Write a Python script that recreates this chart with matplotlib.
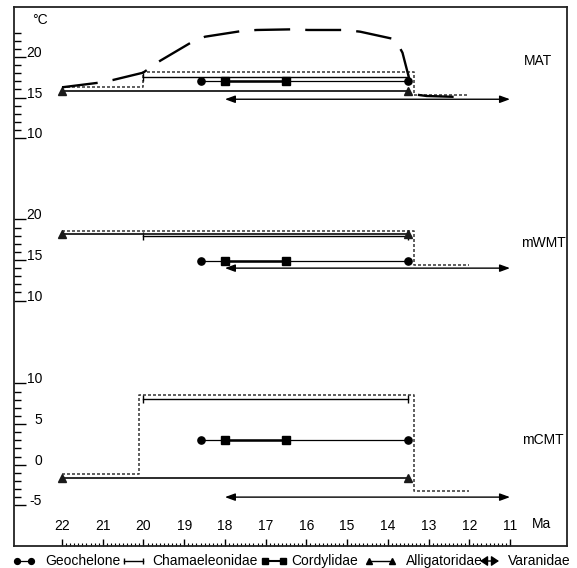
import numpy as np
import matplotlib
matplotlib.use('Agg')
import matplotlib.pyplot as plt

plt.rcParams['font.family'] = ['Liberation Sans', 'DejaVu Sans']
plt.rcParams['font.size'] = 10

# three temperature panels share one axis, each shifted by an offset
panels = ['MAT', 'mWMT', 'mCMT']
offsets = [0.0, -20.0, -30.2]

# stratigraphic ranges (Ma)
geochelone_ma = [18.6, 13.5]
cordylidae_ma = [18.0, 16.5]
chamaeleonidae_ma = [20.0, 13.5]
alligatoridae_ma = [22.0, 13.5]
varanidae_ma = [18.0, 11.0]

# temperature of each taxon, one value per panel (MAT, mWMT, mCMT)
geochelone_t = [17.0, 14.9, 3.0]
cordylidae_t = [17.0, 14.9, 3.0]
chamaeleonidae_t = [17.6, 18.0, 8.1]
alligatoridae_t = [15.8, 18.2, -1.7]
varanidae_t = [14.8, 14.0, -4.0]

# dotted step estimate per panel
step_ma = [[22.0, 20.0, 13.35, 12.0],
           [22.0, 13.35, 12.0],
           [22.0, 20.1, 13.35, 12.0]]
step_t = [[16.3, 18.1, 15.3],
          [18.6, 14.4],
          [-1.2, 8.6, -3.3]]

# dashed MAT curve
curve_ma = [22.0, 21.11, 20.75, 20.01, 19.59, 18.84, 18.49, 17.59, 17.22, 16.33,
            15.96, 15.05, 14.68, 13.82, 13.64, 13.46, 13.35, 13.05, 12.19]
curve_t = [16.27, 16.83, 17.17, 18.07, 19.54, 21.76, 22.5, 23.2, 23.33, 23.41,
           23.33, 23.33, 23.12, 22.18, 20.53, 17.04, 15.4, 15.2, 15.07]

# axis ticks
xticks = [22, 21, 20, 19, 18, 17, 16, 15, 14, 13, 12, 11]
ytick_major = [[20, 15, 10], [20, 15, 10], [10, 5, 0, -5]]
ytick_minor = [range(10, 24), range(10, 21), range(-5, 11)]

legend_labels = ['Geochelone', 'Chamaeleonidae', 'Cordylidae', 'Alligatoridae', 'Varanidae']

fig = plt.figure(figsize=(5.77, 5.68), dpi=100)
ax = fig.add_axes([14 / 577, 22 / 568, 553 / 577, 539 / 568])
ax.set_xlim(23.18, 9.60)
ax.set_ylim(-40.22, 26.16)

dot_col = '#444444'
for i, off in enumerate(offsets):
    # dotted estimate
    ys = np.array(step_t[i] + [step_t[i][-1]]) + off
    ax.step(step_ma[i], ys, where='post', color=dot_col, lw=1.2, ls=(0, (1.8, 1.2)), zorder=1)

    ax.plot(chamaeleonidae_ma, [chamaeleonidae_t[i] + off] * 2, color='k', lw=1.0,
            marker='|', ms=6, mew=1.0, zorder=2)
    ax.plot(alligatoridae_ma, [alligatoridae_t[i] + off] * 2, color='#1a1a1a', lw=1.3,
            marker='^', ms=5.5, zorder=2)
    ax.plot(geochelone_ma, [geochelone_t[i] + off] * 2, color='k', lw=0.9,
            marker='o', ms=5.2, zorder=3)
    ax.plot(cordylidae_ma, [cordylidae_t[i] + off] * 2, color='k', lw=1.8,
            marker='s', ms=5.2, zorder=3)
    ax.annotate('', xy=(varanidae_ma[1], varanidae_t[i] + off),
                xytext=(varanidae_ma[0], varanidae_t[i] + off),
                arrowprops=dict(arrowstyle='<|-|>,head_length=0.6,head_width=0.22',
                                mutation_scale=10, color='k', lw=1.0,
                                shrinkA=0, shrinkB=0))

# MAT curve
ax.plot(curve_ma, np.array(curve_t) + offsets[0], color='k', lw=1.7,
        dashes=(15.2, 6.4), zorder=4)

# panel labels
label_pos = [(10.31, 19.5), (10.19, 17.1), (10.19, 3.0)]
for name, off, (lx, ly) in zip(panels, offsets, label_pos):
    ax.text(lx, ly + off, name, ha='center', va='center', fontsize=10)
ax.text(22.54, 24.56, '°C', ha='center', va='center', fontsize=10)

# y ticks
major_pos, major_lab, minor_pos = [], [], []
for off, maj, mnr in zip(offsets, ytick_major, ytick_minor):
    major_pos += [v + off for v in maj]
    major_lab += [str(v) for v in maj]
    minor_pos += [v + off for v in mnr]
ax.set_yticks(major_pos, major_lab)
ax.set_yticks(minor_pos, minor=True)
ax.tick_params(axis='y', which='major', direction='in', length=8.6, width=1.0,
               pad=-20.2, labelsize=10)
ax.tick_params(axis='y', which='minor', direction='in', length=5, width=1.0)
for t in ax.get_yticklabels():
    t.set_va('baseline')

# x ticks
ax.set_xticks(xticks, [str(v) for v in xticks])
ax.set_xticks(np.arange(110, 221) / 10.0, minor=True)
ax.tick_params(axis='x', which='major', direction='in', length=5, width=1.0,
               pad=-19.5, labelsize=10)
ax.tick_params(axis='x', which='minor', direction='in', length=2.2, width=0.8)
ax.text(10.22, 0.0408, 'Ma', transform=ax.get_xaxis_transform(), ha='center',
        va='center', fontsize=10)

for s in ax.spines.values():
    s.set_linewidth(1.3)
    s.set_color('#222222')

# legend strip below the frame
lax = fig.add_axes([0, 0, 1, 1])
lax.set_xlim(0, 577)
lax.set_ylim(568, 0)
lax.axis('off')
ly = 561
handle_x = [(17, 31), (124, 143), (265, 283), (369, 392), (480, 499)]
text_x = [45, 152.7, 291.7, 406, 508]
lax.plot(handle_x[0], [ly, ly], color='k', lw=0.9, marker='o', ms=4.2)
lax.plot(handle_x[1], [ly, ly], color='k', lw=1.0, marker='|', ms=5, mew=1.0)
lax.plot(handle_x[2], [ly, ly], color='k', lw=1.5, marker='s', ms=4.5)
lax.plot(handle_x[3], [ly, ly], color='k', lw=1.0, marker='^', ms=5)
lax.annotate('', xy=(handle_x[4][1], ly), xytext=(handle_x[4][0], ly),
             arrowprops=dict(arrowstyle='<|-|>,head_length=0.45,head_width=0.3',
                             mutation_scale=10, color='k', lw=1.0,
                             shrinkA=0, shrinkB=0))
for lab, tx in zip(legend_labels, text_x):
    lax.text(tx, ly, lab, ha='left', va='center', fontsize=10)

fig.savefig('out.png', dpi=100, facecolor='white')
